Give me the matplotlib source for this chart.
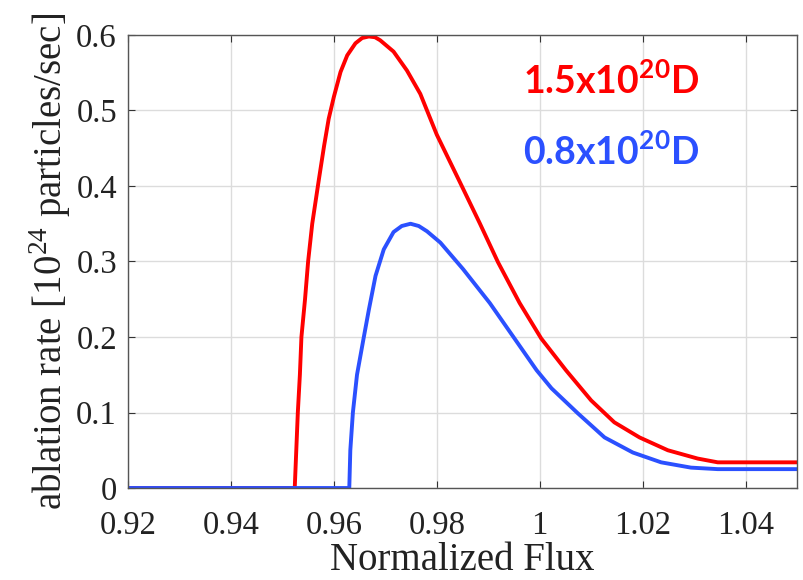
import numpy as np
from matplotlib import pyplot as plt
from matplotlib.ticker import FormatStrFormatter

# values
flux_red = [0.92, 0.9524, 0.9527, 0.9530, 0.9534, 0.9537, 0.9544, 0.9550, 0.9558,
            0.9571, 0.9581, 0.9590, 0.9600, 0.9613, 0.9626, 0.9642, 0.9655, 0.9668,
            0.9680, 0.9690, 0.9716, 0.9742, 0.9768, 0.9800, 0.9845, 0.9884, 0.9919,
            0.9961, 1.0003, 1.0051, 1.0100, 1.0145, 1.0194, 1.0249, 1.0307, 1.0346,
            1.05]
rate_red = [0.0, 0.0, 0.05, 0.10, 0.15, 0.20, 0.25, 0.30, 0.35,
            0.409, 0.453, 0.489, 0.518, 0.551, 0.573, 0.589, 0.596, 0.598,
            0.597, 0.593, 0.578, 0.553, 0.522, 0.468, 0.405, 0.350, 0.299,
            0.245, 0.198, 0.156, 0.116, 0.087, 0.067, 0.050, 0.039, 0.034,
            0.034]

flux_blue = [0.92, 0.9630, 0.9632, 0.9637, 0.9645, 0.9658, 0.9668, 0.9681, 0.9697,
             0.9716, 0.9732, 0.9749, 0.9765, 0.9781, 0.9807, 0.9851, 0.9903, 0.9948,
             0.9994, 1.0023, 1.0074, 1.0126, 1.0181, 1.0236, 1.0294, 1.0346, 1.05]
rate_blue = [0.0, 0.0, 0.05, 0.10, 0.15, 0.199, 0.236, 0.281, 0.316,
             0.339, 0.347, 0.350, 0.347, 0.340, 0.325, 0.290, 0.245, 0.201,
             0.156, 0.132, 0.099, 0.067, 0.047, 0.034, 0.027, 0.025, 0.025]

labels = ["1.5x10", "0.8x10"]
colors = ["#ff0000", "#2b50ff"]

plt.rcParams['font.family'] = 'serif'
plt.rcParams['font.serif'] = ['Liberation Serif', 'DejaVu Serif']
plt.rcParams['mathtext.fontset'] = 'custom'
plt.rcParams['mathtext.rm'] = 'Liberation Serif'
plt.rcParams['mathtext.sf'] = 'Lato:bold'

fig = plt.figure(figsize=(8.04, 5.80), dpi=100)
ax = fig.add_axes([0.1592, 0.1586, 0.8321, 0.7811])

ax.plot(flux_red, rate_red, color=colors[0], linewidth=2.8)
ax.plot(flux_blue, rate_blue, color=colors[1], linewidth=2.8)

ax.set_xlim(0.92, 1.05)
ax.set_ylim(0, 0.6)
ax.set_xticks(np.arange(0.92, 1.041, 0.02))
ax.set_yticks(np.arange(0, 0.61, 0.1))
ax.xaxis.set_major_formatter(FormatStrFormatter('%g'))
ax.yaxis.set_major_formatter(FormatStrFormatter('%g'))
ax.grid(True, color='#dcdcdc', linewidth=1.0)
ax.set_axisbelow(True)
ax.tick_params(direction='in', top=True, right=True, length=5, width=0.8,
               color='#333333', labelsize=23.5, labelcolor='#222222')
ax.tick_params(axis='x', pad=16)
ax.tick_params(axis='y', pad=8)
for s in ax.spines.values():
    s.set_color('#555555')
    s.set_linewidth(1.0)

ax.set_xlabel("Normalized Flux", fontsize=28, color='#222222', labelpad=1)
ax.set_ylabel(r"ablation rate [10$^{\mathrm{24}}$ particles/sec]",
              fontsize=28, color='#222222', labelpad=2)

ax.text(0.9967, 0.539, labels[0] + r"$^{\mathsf{20}}$D", color=colors[0],
        family='Lato', fontweight='bold', fontsize=27, va='center', ha='left')
ax.text(0.9967, 0.445, labels[1] + r"$^{\mathsf{20}}$D", color=colors[1],
        family='Lato', fontweight='bold', fontsize=27, va='center', ha='left')

fig.savefig("out.png", dpi=100)
